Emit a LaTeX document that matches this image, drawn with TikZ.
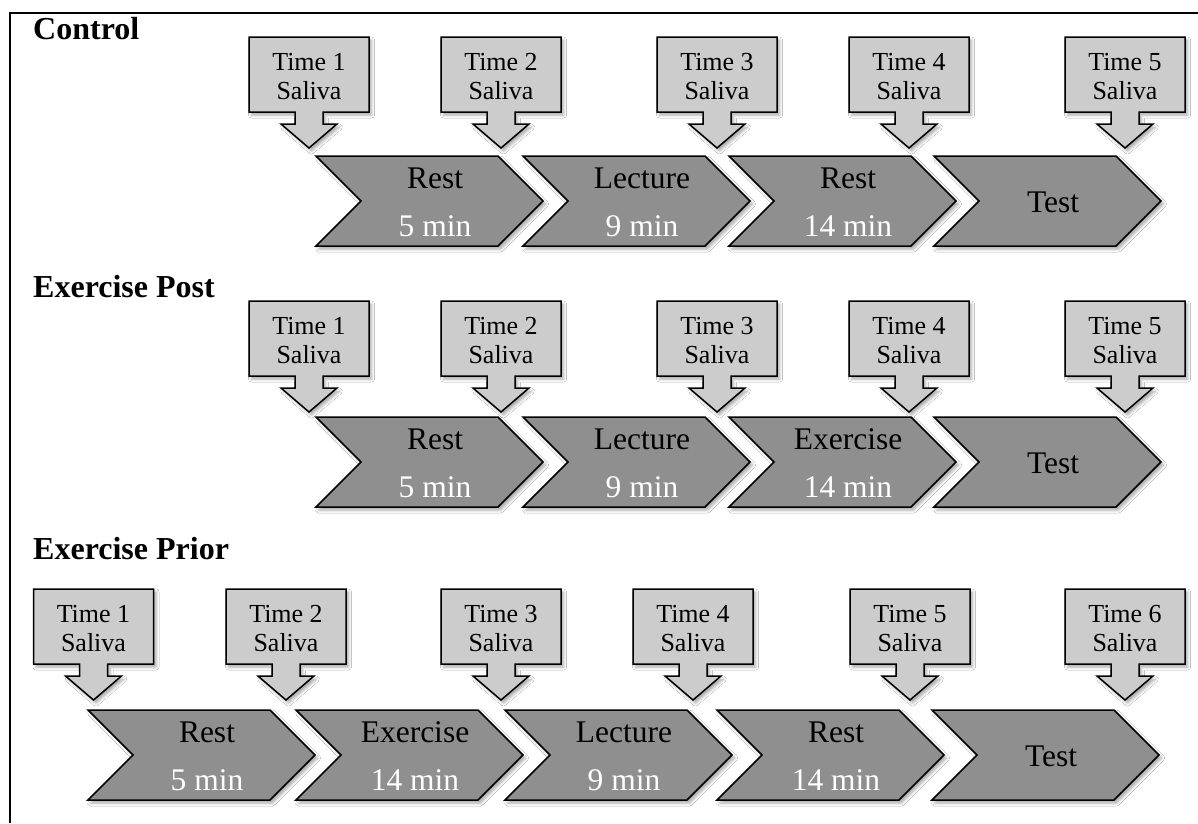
\documentclass[tikz,border=0pt]{standalone}
\usepackage{fontspec}
\setmainfont{Liberation Serif}
\usetikzlibrary{shadows.blur}
\definecolor{callfill}{RGB}{204,204,204}
\definecolor{chevfill}{RGB}{143,143,143}
\tikzset{
  callbox/.style={draw=black, line width=1.5pt, fill=callfill, line join=miter,
    blur shadow={shadow xshift=2.5pt, shadow yshift=-3pt, shadow blur radius=3pt, shadow opacity=35}},
  chevbox/.style={draw=black, line width=1.5pt, fill=chevfill, line join=miter,
    blur shadow={shadow xshift=2.5pt, shadow yshift=-3pt, shadow blur radius=3pt, shadow opacity=35}},
  calltext/.style={font=\fontsize{26}{29}\selectfont, align=center, inner sep=0pt},
  chevtext/.style={font=\fontsize{31.5}{48}\selectfont, align=center, inner sep=0pt},
  titletext/.style={font=\fontsize{32}{36}\selectfont\bfseries, inner sep=0pt, anchor=base west},
  framestyle/.style={draw=black, line width=2pt}
}
% callout: name, centre x, top y, number
\newcommand\mycall[4]{%
  \draw[callbox] ({#2-60},{#3}) -- ({#2+60},{#3}) -- ({#2+60},{#3+75}) -- ({#2+14},{#3+75})
    -- ({#2+14},{#3+87}) -- ({#2+28},{#3+87}) -- ({#2},{#3+111}) -- ({#2-28},{#3+87})
    -- ({#2-14},{#3+87}) -- ({#2-14},{#3+75}) -- ({#2-60},{#3+75}) -- cycle;
  \node[calltext] (#1) at ({#2},{#3+39.5}) {Time #4\\Saliva};}
% chevron: name, left x, top y, label, duration
\newcommand\mychevshape[2]{%
  \draw[chevbox] ({#1},{#2}) -- ({#1+182},{#2}) -- ({#1+227},{#2+45}) -- ({#1+182},{#2+90})
    -- ({#1},{#2+90}) -- ({#1+45},{#2+45}) -- cycle;}
\newcommand\mychev[5]{%
  \mychevshape{#2}{#3}
  \node[chevtext] (#1) at ({#2+119},{#3+46}) {#4\\\textcolor{white}{#5}};}
\newcommand\mychevone[4]{%
  \mychevshape{#2}{#3}
  \node[chevtext] (#1) at ({#2+119},{#3+46.5}) {#4};}
\begin{document}
\begin{tikzpicture}[x=1pt, y=-1pt]
\useasboundingbox (0,0) rectangle (1198,823);
\fill[white] (0,0) rectangle (1198,823);
\draw[framestyle] (10,823) -- (10,13) -- (1198,13);

% ---- Control ----
\node[titletext] (tc) at (33,39) {Control};
\mychev{c1}{316}{156}{Rest}{5 min}
\mychev{c2}{523}{156}{Lecture}{9 min}
\mychev{c3}{729}{156}{Rest}{14 min}
\mychevone{c4}{934}{156}{Test}
\mycall{ct1}{309}{37}{1}
\mycall{ct2}{501}{37}{2}
\mycall{ct3}{717}{37}{3}
\mycall{ct4}{909}{37}{4}
\mycall{ct5}{1125}{37}{5}

% ---- Exercise Post ----
\node[titletext] (tp) at (33,297) {Exercise Post};
\mychev{p1}{316}{417}{Rest}{5 min}
\mychev{p2}{523}{417}{Lecture}{9 min}
\mychev{p3}{729}{417}{Exercise}{14 min}
\mychevone{p4}{934}{417}{Test}
\mycall{pt1}{309}{301}{1}
\mycall{pt2}{501}{301}{2}
\mycall{pt3}{717}{301}{3}
\mycall{pt4}{909}{301}{4}
\mycall{pt5}{1125}{301}{5}

% ---- Exercise Prior ----
\node[titletext] (tr) at (33,559) {Exercise Prior};
\mychev{r1}{88}{710}{Rest}{5 min}
\mychev{r2}{296}{710}{Exercise}{14 min}
\mychev{r3}{505}{710}{Lecture}{9 min}
\mychev{r4}{717}{710}{Rest}{14 min}
\mychevone{r5}{932}{710}{Test}
\mycall{rt1}{93.5}{589}{1}
\mycall{rt2}{286}{589}{2}
\mycall{rt3}{501}{589}{3}
\mycall{rt4}{693}{589}{4}
\mycall{rt5}{910}{589}{5}
\mycall{rt6}{1125}{589}{6}
\end{tikzpicture}
\end{document}
